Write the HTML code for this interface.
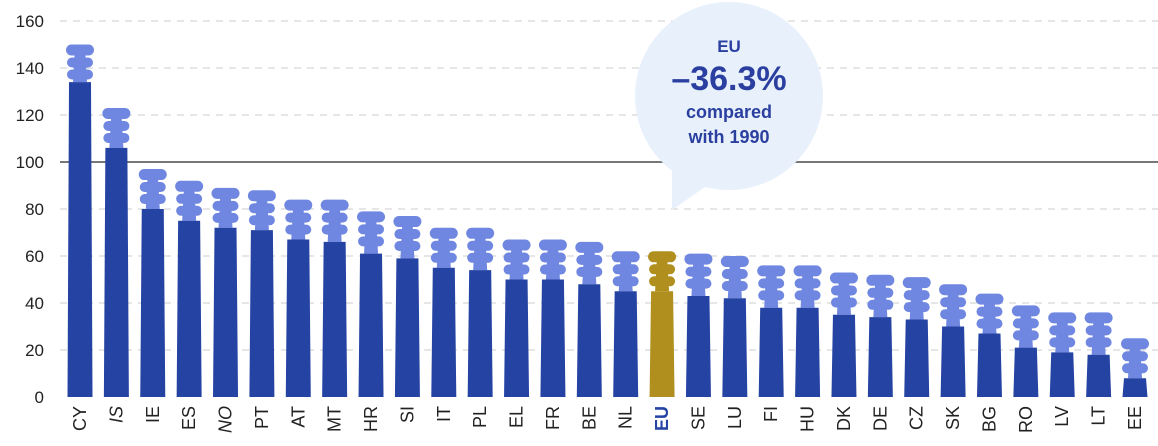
<!DOCTYPE html>
<html><head><meta charset="utf-8"><style>
html,body{margin:0;padding:0;background:#fff;}
svg{display:block;font-family:"Liberation Sans",sans-serif;}
</style></head><body>
<svg id="c" width="1158" height="446" viewBox="0 0 1158 446" xmlns="http://www.w3.org/2000/svg"></svg>
<script>
const s=document.getElementById('c');
const y0=397,k=2.35;
const Y=v=>y0-v*k;
let h='';
for(let v=20;v<=160;v+=20){
  if(v===100) h+=`<line x1="60" x2="1158" y1="${Y(v)}" y2="${Y(v)}" stroke="#777" stroke-width="2"/>`;
  else h+=`<line x1="60" x2="1158" y1="${Y(v)}" y2="${Y(v)}" stroke="#ccc" stroke-width="1" stroke-dasharray="7,6"/>`;
}
for(let v=0;v<=160;v+=20) h+=`<text x="44" y="${Y(v)+6}" font-size="17" text-anchor="end" fill="#222">${v}</text>`;
h+=`<circle cx="729" cy="96" r="94" fill="#e8f1fb"/><path d="M672 160 L672 210 L715 180 Z" fill="#e8f1fb"/>`;
h+=`<text x="729" y="52" font-size="17" font-weight="bold" fill="#2a3f9f" text-anchor="middle">EU</text>`;
h+=`<text x="729" y="90" font-size="34" font-weight="bold" fill="#2a3f9f" text-anchor="middle">–36.3%</text>`;
h+=`<text x="729" y="118" font-size="18" font-weight="bold" fill="#2a3f9f" text-anchor="middle">compared</text>`;
h+=`<text x="729" y="143" font-size="18" font-weight="bold" fill="#2a3f9f" text-anchor="middle">with 1990</text>`;
const d=[["CY",134,150],["IS",106,123],["IE",80,97],["ES",75,92],["NO",72,89],["PT",71,88],["AT",67,84],["MT",66,84],["HR",61,79],["SI",59,77],["IT",55,72],["PL",54,72],["EL",50,67],["FR",50,67],["BE",48,66],["NL",45,62],["EU",45,62],["SE",43,61],["LU",42,60],["FI",38,56],["HU",38,56],["DK",35,53],["DE",34,52],["CZ",33,51],["SK",30,48],["BG",27,44],["RO",21,39],["LV",19,36],["LT",18,36],["EE",8,25]];
const sp=(1135-80)/29;
d.forEach((r,i)=>{
  const cx=80+i*sp, eu=r[0]==="EU";
  const bc=eu?"#b08f1f":"#2443a3", pc=eu?"#b08f1f":"#6f87e0";
  const bt=Y(r[1]), pt=Y(r[2]);
  h+=`<path d="M${cx-5} ${pt+4} L${cx+5} ${pt+4} L${cx+7} ${bt} L${cx-7} ${bt} Z" fill="${pc}"/>`;
  h+=`<rect x="${cx-14}" y="${pt}" width="28" height="11" rx="5.5" fill="${pc}"/>`;
  h+=`<rect x="${cx-13}" y="${pt+13}" width="26" height="10" rx="5" fill="${pc}"/>`;
  h+=`<rect x="${cx-13}" y="${pt+25}" width="26" height="10" rx="5" fill="${pc}"/>`;
  h+=`<path d="M${cx-11} ${bt} L${cx+11} ${bt} L${cx+12.5} ${y0} L${cx-12.5} ${y0} Z" fill="${bc}"/>`;
  const it=(r[0]==="IS"||r[0]==="NO")?' font-style="italic"':'';
  h+=`<text transform="translate(${cx+6},${y0+9}) rotate(-90)" font-size="18" text-anchor="end" fill="${eu?'#2443a3':'#222'}"${eu?' font-weight="bold"':''}${it}>${r[0]}</text>`;
});
s.innerHTML=h;
</script>
</body></html>
